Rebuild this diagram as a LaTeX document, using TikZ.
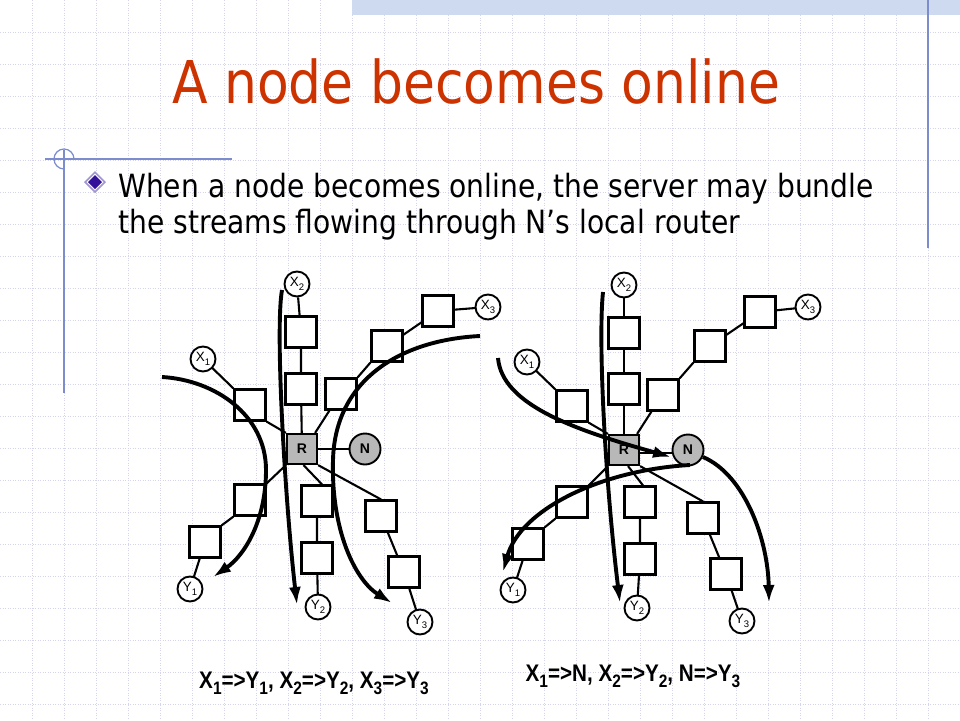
\documentclass[tikz,border=0pt]{standalone}
\usepackage{fontspec}
\setmainfont{DejaVu Sans}
\newfontfamily\tahoma[FakeStretch=0.88]{DejaVu Sans}
\newfontfamily\arialfont{Liberation Sans}
\newfontfamily\labelfont[FakeStretch=0.86]{Liberation Sans}
\usetikzlibrary{arrows.meta}
\definecolor{titlered}{RGB}{204,51,0}
\definecolor{gridcol}{RGB}{212,212,236}
\definecolor{deco}{RGB}{125,140,205}
\definecolor{band}{RGB}{205,218,240}
\definecolor{routergray}{RGB}{184,184,184}
\definecolor{bulletdark}{RGB}{51,17,153}
\definecolor{bulletlight}{RGB}{160,150,210}
\newcommand{\capsub}[1]{\raisebox{-0.28em}{\fontsize{18}{18}\selectfont #1}}
\newcommand{\nodesub}[1]{\raisebox{-0.25em}{\fontsize{9.5}{9.5}\selectfont #1}}
\pgfdeclarelayer{grid}
\pgfdeclarelayer{links}
\pgfsetlayers{grid,links,main}
\begin{document}
\begin{tikzpicture}[x=1pt,y=-1pt,
  gridline/.style={gridcol,line width=0.9pt,dash pattern=on 1pt off 1.5pt},
  decoline/.style={deco,line width=1.2pt},
  box/.style={draw,line width=2.2pt,fill=white,minimum size=31pt,inner sep=0pt},
  endpt/.style={circle,draw,line width=1.9pt,fill=white,minimum size=25pt,inner sep=0pt,
    font=\arialfont\fontsize{13.5}{14}\selectfont},
  router/.style={draw,line width=2.2pt,fill=routergray,minimum size=30pt,inner sep=0pt,
    font=\arialfont\bfseries\fontsize{14}{15}\selectfont},
  newnode/.style={circle,draw,line width=1.9pt,fill=routergray,minimum size=31pt,inner sep=0pt,
    font=\arialfont\bfseries\fontsize{14}{15}\selectfont},
  link/.style={line width=2.1pt},
  flow/.style={line width=3.9pt,-{Latex[length=18pt,width=12pt]}},
  caption/.style={anchor=base,font=\labelfont\bfseries\fontsize{24}{27}\selectfont}]
\useasboundingbox (0,0) rectangle (960,720);
\begin{pgfonlayer}{grid}
  \fill[white] (0,0) rectangle (960,720);
  \foreach \i in {1,...,29} \draw[gridline] (\i*32,0) -- (\i*32,720);
  \foreach \j in {1,...,22} \draw[gridline] (0,\j*32) -- (960,\j*32);
  \fill[band] (352,0) rectangle (960,15);
  \draw[decoline] (928,0) -- (928,248);
  \draw[decoline] (45,159) -- (232,159);
  \draw[decoline] (64,150) -- (64,393);
  \draw[decoline] (74,159) arc[start angle=0,end angle=-270,radius=10];
\end{pgfonlayer}

% title and bullet text
\node[anchor=base west,inner sep=0pt,text=titlered,font=\tahoma\fontsize{59}{70}\selectfont] (title) at (172,103) {A node becomes online};
\fill[bulletlight] (95,171) -- (106,182) -- (95,193) -- (84,182) -- cycle;
\fill[white] (95,173.5) -- (103.5,182) -- (95,190.5) -- (86.5,182) -- cycle;
\fill[bulletdark] (95,175) -- (102,182) -- (95,189) -- (88,182) -- cycle;
\node[anchor=base west,inner sep=0pt,font=\tahoma\fontsize{32}{38}\selectfont] (line1) at (118,197) {When a node becomes online, the server may bundle};
\node[anchor=base west,inner sep=0pt,font=\tahoma\fontsize{32}{38}\selectfont] (line2) at (118,233) {the streams flowing through N’s local router};

% ---------- left diagram ----------
\node[endpt] (aX2) at (297,284) {X\nodesub{2}};
\node[box] (aT1) at (301,332) {};
\node[box] (aT2) at (301,389) {};
\node[router] (aR) at (302,449) {R};
\node[newnode] (aN) at (365,449) {N};
\node[endpt] (aX1) at (203,359) {X\nodesub{1}};
\node[box] (aS1) at (250,405) {};
\node[box] (aA) at (341,394) {};
\node[box] (aB) at (387,346) {};
\node[box] (aC) at (438,311) {};
\node[endpt] (aX3) at (488,307) {X\nodesub{3}};
\node[box] (aD) at (250,500) {};
\node[box] (aE) at (205,542) {};
\node[endpt] (aY1) at (190,589) {Y\nodesub{1}};
\node[box] (aF) at (317,501) {};
\node[box] (aG) at (317,558) {};
\node[endpt] (aY2) at (318,607) {Y\nodesub{2}};
\node[box] (aH) at (381,516) {};
\node[box] (aI) at (404,572) {};
\node[endpt] (aY3) at (420,622) {Y\nodesub{3}};
\begin{pgfonlayer}{links}
  \draw[link] (aX2) -- (aT1) -- (aT2) -- (aR);
  \draw[link] (aR) -- (aN);
  \draw[link] (aX1.center) -- (aS1.north west);
  \draw[link] (aS1.south east) -- (aR.north west);
  \draw[link] ([xshift=-3pt]aR.north east) -- ([xshift=5pt]aA.south west);
  \draw[link] (aA.north east) -- (aB.south west);
  \draw[link] (aB.center) -- (aC.center) -- (aX3.center);
  \draw[link] (aR.south west) -- (aD.north east);
  \draw[link] (aD.south west) -- (aE.north east);
  \draw[link] (aE.center) -- (aY1.center);
  \draw[link] ([xshift=1.5pt]aR.south) -- ([xshift=5pt]aF.north);
  \draw[link] (aF.center) -- (aG.center) -- (aY2.center);
  \draw[link] (aR.south east) -- (aH.north);
  \draw[link] (aH.center) -- (aI.center) -- (aY3.center);
\end{pgfonlayer}
\coordinate (af1s) at (162,377);
\coordinate (af1m) at (266,470);
\coordinate (af1e) at (213,577);
\coordinate (af2s) at (282,290);
\coordinate (af2e) at (297,605);
\coordinate (af3s) at (480,336);
\coordinate (af3m) at (333,460);
\coordinate (af3e) at (392,603);
\draw[flow] (af1s) .. controls (215,380) and (266,415) .. (af1m) .. controls (266,520) and (245,555) .. (af1e);
\draw[flow] (af2s) .. controls (275,330) and (285,500) .. (af2e);
\draw[flow] (af3s) .. controls (400,340) and (335,380) .. (af3m) .. controls (331,530) and (355,580) .. (af3e);
\node[caption] (acap) at (314,688) {X\capsub{1}=>Y\capsub{1}, X\capsub{2}=>Y\capsub{2}, X\capsub{3}=>Y\capsub{3}};

% ---------- right diagram ----------
\node[endpt] (bX2) at (624,285) {X\nodesub{2}};
\node[box] (bT1) at (624,333) {};
\node[box] (bT2) at (624,389) {};
\node[router] (bR) at (624,450) {R};
\node[newnode] (bN) at (688,450) {N};
\node[endpt] (bX1) at (527,362) {X\nodesub{1}};
\node[box] (bS1) at (572,406) {};
\node[box] (bA) at (663,395) {};
\node[box] (bB) at (710,346) {};
\node[box] (bC) at (760,312) {};
\node[endpt] (bX3) at (808,307) {X\nodesub{3}};
\node[box] (bD) at (572,502) {};
\node[box] (bE) at (528,544) {};
\node[endpt] (bY1) at (513,590) {Y\nodesub{1}};
\node[box] (bF) at (640,502) {};
\node[box] (bG) at (640,559) {};
\node[endpt] (bY2) at (637,608) {Y\nodesub{2}};
\node[box] (bH) at (703,518) {};
\node[box] (bI) at (726,574) {};
\node[endpt] (bY3) at (742,621) {Y\nodesub{3}};
\begin{pgfonlayer}{links}
  \draw[link] (bX2) -- (bT1) -- (bT2) -- (bR);
  \draw[link] ([yshift=-3pt]bR.east) -- ([yshift=-3pt]bN.west);
  \draw[link] (bX1.center) -- (bS1.north west);
  \draw[link] (bS1.south east) -- (bR.north west);
  \draw[link] ([xshift=-3pt]bR.north east) -- ([xshift=5pt]bA.south west);
  \draw[link] (bA.north east) -- (bB.south west);
  \draw[link] (bB.center) -- (bC.center) -- (bX3.center);
  \draw[link] (bR.south west) -- (bD.north east);
  \draw[link] (bD.south west) -- (bE.north east);
  \draw[link] (bE.center) -- (bY1.center);
  \draw[link] ([xshift=4pt]bR.south) -- ([xshift=3pt]bF.north);
  \draw[link] (bF.center) -- (bG.center) -- (bY2.center);
  \draw[link] (bR.south east) -- (bH.north);
  \draw[link] (bH.center) -- (bI.center) -- (bY3.center);
\end{pgfonlayer}
\coordinate (bf1s) at (498,358);
\coordinate (bf2s) at (603,292);
\coordinate (bf2e) at (620,603);
\coordinate (bf3s) at (690,465);
\coordinate (bf3e) at (503,572);
\coordinate (bf4s) at (703,457);
\coordinate (bf4e) at (769,603);
\draw[flow] (bf1s) .. controls (502,405) and (575,430) .. ([shift={(-17pt,-7pt)}]bN.center);
\draw[flow] (bf2s) .. controls (598,340) and (605,480) .. (bf2e);
\draw[flow] (bf3s) .. controls (600,470) and (520,510) .. (bf3e);
\draw[flow] (bf4s) .. controls (745,475) and (768,540) .. (bf4e);
\node[caption] (bcap) at (633,681) {X\capsub{1}=>N, X\capsub{2}=>Y\capsub{2}, N=>Y\capsub{3}};
\end{tikzpicture}
\end{document}
